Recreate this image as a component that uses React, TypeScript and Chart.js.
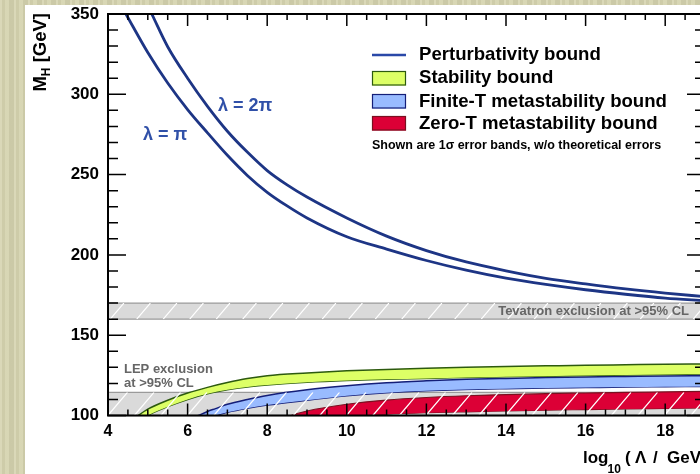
import React, { useEffect, useRef } from "react";
import { Chart, registerables } from "chart.js";
Chart.register(...registerables);

const FONT = "'Liberation Sans', Arial, Helvetica, sans-serif";

// axes
const X_MIN = 4;
const X_MAX = 19;
const Y_MIN = 100;
const Y_MAX = 350;
const X_TICK_LABELS = [4, 6, 8, 10, 12, 14, 16, 18];
const Y_TICK_LABELS = [100, 150, 200, 250, 300, 350];

// Perturbativity bound, lambda = pi
const PERT_PI_X = [4.45, 5, 5.5, 6, 6.5, 7, 7.5, 8, 8.5, 9, 10, 11, 12, 13, 14, 15, 16, 17, 18, 19];
const PERT_PI_M = [350, 326, 307, 290.5, 276, 262, 249.5, 239, 230.5, 223, 211.3, 203.6, 196.5, 190.5, 185.5, 181.6, 178.3, 175.5, 173.1, 171.5];
// Perturbativity bound, lambda = 2 pi
const PERT_2PI_X = [5.1, 5.5, 6, 6.5, 7, 7.5, 8, 8.5, 9, 10, 11, 12, 13, 14, 15, 16, 17, 18, 19];
const PERT_2PI_M = [350, 329.6, 310, 292.5, 277, 264, 252.5, 243.6, 236, 223, 211.7, 202.7, 195.6, 190.1, 185.4, 181.9, 178.8, 176.2, 174];

// Stability bound (1 sigma band)
const STAB_X = [4.6, 4.76, 5, 5.5, 6, 6.5, 7, 7.5, 8, 9, 10, 11, 12, 13, 14, 15, 16, 17, 18, 19];
const STAB_HI = [97, 100, 104, 109.5, 114, 117.5, 120.5, 123, 124.8, 126.5, 127.8, 128.7, 129.4, 130, 130.5, 130.9, 131.3, 131.6, 131.9, 132.1];
const STAB_LO = [93, 96, 100, 105.5, 110, 113.5, 116, 117.8, 119, 120.7, 121.8, 122.5, 123.1, 123.6, 124.1, 124.5, 124.9, 125.2, 125.5, 125.8];

// Finite-T metastability bound
const FINT_X = [6, 6.27, 6.5, 6.7, 7, 7.5, 8, 9, 10, 11, 12, 13, 14, 15, 16, 17, 18, 19];
const FINT_HI = [97, 100, 102.5, 104.3, 107, 110, 112.5, 116, 118.5, 120.4, 121.6, 122.5, 123.1, 123.6, 124, 124.3, 124.6, 124.8];
const FINT_LO = [93, 96, 98.3, 100, 102, 104.5, 106.5, 109.5, 112.3, 114.2, 115.4, 116.2, 116.7, 117.1, 117.4, 117.7, 117.9, 118.1];

// Zero-T metastability bound
const ZERO_X = [8.3, 8.6, 9, 10, 11, 12, 13, 14, 15, 16, 17, 18, 19];
const ZERO_HI = [97, 100, 102.8, 107, 109.6, 111.2, 112.3, 113, 113.6, 114, 114.4, 114.7, 115];
const ZERO_LO = [94, 95.5, 96.5, 99.3, 100.8, 101.7, 102.3, 102.8, 103.3, 103.7, 104.1, 104.4, 104.7];

// exclusion regions
const LEP_EXCL = [100, 114.4];
const TEV_EXCL = [160, 170];

const COLORS = {
  pert: "#1d3585",
  pertLegend: "#2a48a8",
  stabFill: "#ddff66",
  stabLine: "#2d5a0f",
  fintFill: "#99bbff",
  fintLine: "#141e78",
  zeroFill: "#dc0036",
  zeroLine: "#7a1020",
  gray: "#dadada",
  grayLine: "#9a9a9a",
  label: "#666666",
  lambda: "#3050a8",
};

const pts = (xs: number[], ys: number[]) => xs.map((x, i) => ({ x, y: ys[i] }));

const lineDs = (label: string, xs: number[], ys: number[], color: string, width: number, fill: any, bg?: string) => ({
  label,
  data: pts(xs, ys),
  borderColor: color,
  borderWidth: width,
  backgroundColor: bg || "transparent",
  fill,
  pointRadius: 0,
  cubicInterpolationMode: "monotone" as const,
});

function hatchRect(ctx: CanvasRenderingContext2D, left: number, right: number, top: number, bottom: number) {
  ctx.save();
  ctx.beginPath();
  ctx.rect(left, top, right - left, bottom - top);
  ctx.clip();
  ctx.strokeStyle = "#ffffff";
  ctx.lineWidth = 1.2;
  const slope = 0.85;
  const base = 696.75;
  const sp = 26.5;
  const cMin = left + slope * top - sp;
  const cMax = right + slope * bottom + sp;
  const k0 = Math.floor((cMin - base) / sp);
  const k1 = Math.ceil((cMax - base) / sp);
  ctx.beginPath();
  for (let k = k0; k <= k1; k++) {
    const c = base + k * sp;
    ctx.moveTo(c - slope * bottom, bottom);
    ctx.lineTo(c - slope * top, top);
  }
  ctx.stroke();
  ctx.restore();
}

const decor = {
  id: "decor",
  beforeDraw(chart: any) {
    const { ctx, width, height } = chart;
    ctx.save();
    ctx.fillStyle = "#ffffff";
    ctx.fillRect(0, 0, width, height);
    ctx.restore();
  },
  beforeDatasetsDraw(chart: any) {
    const { ctx, chartArea: a, scales } = chart;
    const y = scales.y;
    ctx.save();
    for (const [lo, hi] of [LEP_EXCL, TEV_EXCL]) {
      const yt = y.getPixelForValue(hi);
      const yb = y.getPixelForValue(lo);
      ctx.fillStyle = COLORS.gray;
      ctx.fillRect(a.left, yt, a.right - a.left, yb - yt);
      ctx.strokeStyle = COLORS.grayLine;
      ctx.lineWidth = 1.3;
      ctx.beginPath();
      ctx.moveTo(a.left, yt);
      ctx.lineTo(a.right, yt);
      ctx.moveTo(a.left, yb);
      ctx.lineTo(a.right, yb);
      ctx.stroke();
    }
    ctx.restore();
  },
  afterDatasetsDraw(chart: any) {
    const { ctx, chartArea: a, scales } = chart;
    const y = scales.y;
    for (const [lo, hi] of [LEP_EXCL, TEV_EXCL]) {
      hatchRect(ctx, a.left, a.right, y.getPixelForValue(hi), y.getPixelForValue(lo));
    }
  },
  afterDraw(chart: any) {
    const { ctx, chartArea: a, scales } = chart;
    const x = scales.x;
    const y = scales.y;
    ctx.save();

    // exclusion texts
    ctx.fillStyle = COLORS.label;
    ctx.font = `bold 13px ${FONT}`;
    ctx.textBaseline = "middle";
    ctx.textAlign = "right";
    ctx.fillText("Tevatron exclusion at >95% CL", 664, (y.getPixelForValue(TEV_EXCL[0]) + y.getPixelForValue(TEV_EXCL[1])) / 2);
    ctx.textAlign = "left";
    ctx.fillText("LEP exclusion", 99, 364);
    ctx.fillText("at >95% CL", 99, 378);

    // lambda labels
    ctx.fillStyle = COLORS.lambda;
    ctx.font = `bold 18px ${FONT}`;
    ctx.fillText("λ = π", 118, 130);
    ctx.fillText("λ = 2π", 193, 101);

    // legend
    ctx.strokeStyle = COLORS.pertLegend;
    ctx.lineWidth = 2.5;
    ctx.beginPath();
    ctx.moveTo(347, 50);
    ctx.lineTo(381, 50);
    ctx.stroke();
    const boxes = [
      [66, COLORS.stabFill, COLORS.stabLine],
      [89, COLORS.fintFill, COLORS.fintLine],
      [111, COLORS.zeroFill, COLORS.zeroLine],
    ] as const;
    for (const [by, f, s] of boxes) {
      ctx.fillStyle = f;
      ctx.fillRect(347, by, 34, 14.5);
      ctx.strokeStyle = s;
      ctx.lineWidth = 1.2;
      ctx.strokeRect(347.5, by + 0.5, 33, 13.5);
    }
    ctx.fillStyle = "#000";
    ctx.font = `bold 18.6px ${FONT}`;
    ctx.textAlign = "left";
    ctx.fillText("Perturbativity bound", 394, 50);
    ctx.fillText("Stability bound", 394, 73);
    ctx.fillText("Finite-T metastability bound", 394, 96.5);
    ctx.fillText("Zero-T metastability bound", 394, 118.5);
    ctx.font = `bold 12.5px ${FONT}`;
    ctx.fillText("Shown are 1σ error bands, w/o theoretical errors", 347, 141);

    // frame
    ctx.strokeStyle = "#000";
    ctx.lineWidth = 2;
    ctx.strokeRect(a.left, a.top, a.right - a.left, a.bottom - a.top);

    // ticks
    ctx.lineWidth = 1.5;
    ctx.beginPath();
    for (let v = X_MIN; v <= X_MAX + 1e-6; v += 0.5) {
      const px = x.getPixelForValue(v);
      const major = X_TICK_LABELS.includes(v);
      const L = major ? 12 : 6;
      ctx.moveTo(px, a.bottom);
      ctx.lineTo(px, a.bottom - L);
      ctx.moveTo(px, a.top);
      ctx.lineTo(px, a.top + L);
    }
    for (let v = Y_MIN; v <= Y_MAX + 1e-6; v += 10) {
      const py = y.getPixelForValue(v);
      const major = Y_TICK_LABELS.includes(v);
      const L = major ? 18 : 10;
      ctx.moveTo(a.left, py);
      ctx.lineTo(a.left + L, py);
      ctx.moveTo(a.right, py);
      ctx.lineTo(a.right - L, py);
    }
    ctx.stroke();

    // y title  M_H [GeV]
    ctx.fillStyle = "#000";
    ctx.textAlign = "left";
    ctx.textBaseline = "alphabetic";
    const mainF = `bold 18.5px ${FONT}`;
    const subF = `bold 12px ${FONT}`;
    ctx.font = mainF;
    const wM = ctx.measureText("M").width;
    const wRest = ctx.measureText(" [GeV]").width;
    ctx.font = subF;
    const wH = ctx.measureText("H").width;
    const total = wM + wH + wRest;
    ctx.save();
    ctx.translate(20.5, 8 + total);
    ctx.rotate(-Math.PI / 2);
    ctx.font = mainF;
    ctx.fillText("M", 0, 0);
    ctx.font = subF;
    ctx.fillText("H", wM, 4);
    ctx.font = mainF;
    ctx.fillText(" [GeV]", wM + wH, 0);
    ctx.restore();

    // x title log10(Λ / GeV)
    ctx.font = `bold 17px ${FONT}`;
    ctx.fillText("log", 558, 457.5);
    ctx.font = `bold 12px ${FONT}`;
    ctx.fillText("10", 582.5, 468);
    ctx.font = `bold 17px ${FONT}`;
    ctx.fillText("(", 600, 457.5);
    ctx.fillText("Λ", 610, 457.5);
    ctx.fillText("/", 628, 457.5);
    ctx.fillText("GeV)", 642, 457.5);

    ctx.restore();
  },
};

export default function App() {
  const ref = useRef<HTMLCanvasElement>(null);
  useEffect(() => {
    if (!ref.current) return;
    const chart = new Chart(ref.current, {
      type: "line",
      data: {
        datasets: [
          lineDs("Perturbativity bound λ=π", PERT_PI_X, PERT_PI_M, COLORS.pert, 2.8, false),
          lineDs("Perturbativity bound λ=2π", PERT_2PI_X, PERT_2PI_M, COLORS.pert, 2.8, false),
          lineDs("Stability bound", STAB_X, STAB_HI, COLORS.stabLine, 1.5, "+1", COLORS.stabFill),
          lineDs("Stability bound low", STAB_X, STAB_LO, COLORS.stabLine, 1.5, false),
          lineDs("Finite-T metastability bound", FINT_X, FINT_HI, COLORS.fintLine, 1.5, "+1", COLORS.fintFill),
          lineDs("Finite-T low", FINT_X, FINT_LO, COLORS.fintLine, 1.5, false),
          lineDs("Zero-T metastability bound", ZERO_X, ZERO_HI, COLORS.zeroLine, 1.2, "+1", COLORS.zeroFill),
          lineDs("Zero-T low", ZERO_X, ZERO_LO, COLORS.zeroLine, 1.2, false),
        ] as any,
      },
      options: {
        responsive: false,
        devicePixelRatio: 1,
        animation: false,
        events: [],
        layout: { padding: { left: 0, top: 9, right: 15, bottom: 0 } },
        plugins: { legend: { display: false }, tooltip: { enabled: false } },
        scales: {
          x: {
            type: "linear",
            min: X_MIN,
            max: X_MAX,
            grid: { display: false, drawTicks: false },
            border: { display: false },
            afterBuildTicks: (s: any) => {
              s.ticks = X_TICK_LABELS.map((v) => ({ value: v }));
            },
            afterFit: (s: any) => {
              s.height = 58.5;
              s.paddingLeft = 0;
              s.paddingRight = 0;
            },
            ticks: {
              autoSkip: false,
              maxRotation: 0,
              padding: 6,
              color: "#000",
              font: { family: FONT, size: 16, weight: "bold" },
            },
          },
          y: {
            type: "linear",
            min: Y_MIN,
            max: Y_MAX,
            grid: { display: false, drawTicks: false },
            border: { display: false },
            afterBuildTicks: (s: any) => {
              s.ticks = Y_TICK_LABELS.map((v) => ({ value: v }));
            },
            afterFit: (s: any) => {
              s.width = 83;
              s.paddingTop = 0;
              s.paddingBottom = 0;
            },
            ticks: {
              autoSkip: false,
              padding: 9,
              color: "#000",
              font: { family: FONT, size: 17, weight: "bold" },
            },
          },
        },
      } as any,
      plugins: [decor],
    });
    return () => chart.destroy();
  }, []);

  const bg =
    "repeating-linear-gradient(90deg, rgba(255,255,255,0.10) 0px, rgba(255,255,255,0.10) 2px, rgba(0,0,0,0.04) 2px, rgba(0,0,0,0.04) 5px, rgba(255,255,255,0.06) 5px, rgba(255,255,255,0.06) 9px, rgba(0,0,0,0.05) 9px, rgba(0,0,0,0.05) 14px), #d6d4b0";

  return (
    <div
      style={{
        position: "fixed",
        left: 0,
        top: 0,
        width: 700,
        height: 474,
        overflow: "hidden",
        background: bg,
      }}
    >
      <canvas
        ref={ref}
        width={695}
        height={469}
        style={{ position: "absolute", left: 25, top: 5, width: 695, height: 469 }}
      />
    </div>
  );
}
